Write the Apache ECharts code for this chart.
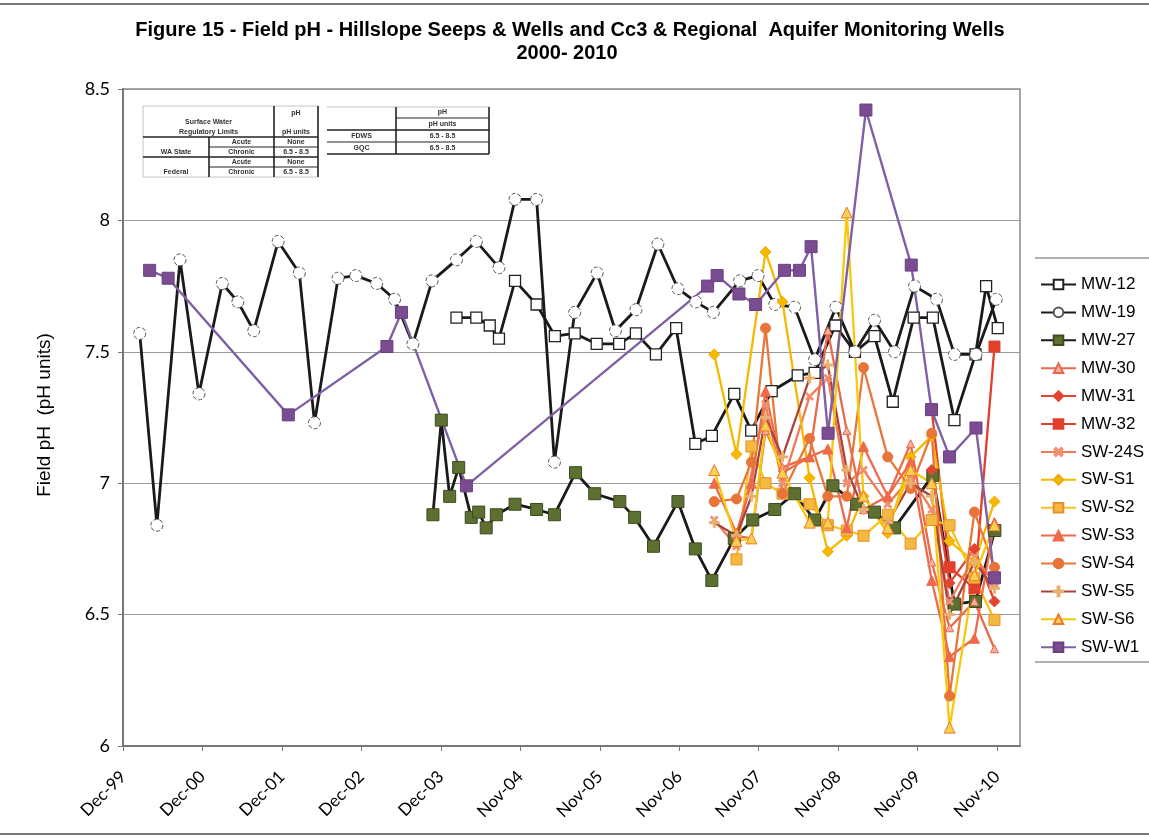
<!DOCTYPE html>
<html>
<head>
<meta charset="utf-8">
<script src="https://cdn.jsdelivr.net/npm/echarts@6/dist/echarts.min.js"></script>
<style>
html,body{margin:0;padding:0;background:#fff}
#chart{width:1149px;height:837px}
</style>
</head>
<body>
<div id="chart"></div>
<script>
// Field pH readings, [sample date, pH]
const MW12 = [['2004-02-12',7.63],['2004-05-12',7.63],['2004-07-12',7.60],['2004-08-23',7.55],['2004-11-04',7.77],['2005-02-10',7.68],['2005-05-04',7.56],['2005-08-02',7.57],['2005-11-10',7.53],['2006-02-20',7.53],['2006-05-07',7.57],['2006-08-06',7.49],['2006-11-06',7.59],['2007-02-01',7.15],['2007-04-17',7.18],['2007-07-28',7.34],['2007-10-13',7.20],['2008-01-14',7.35],['2008-05-11',7.41],['2008-07-27',7.42],['2008-10-29',7.60],['2009-01-26',7.50],['2009-04-25',7.56],['2009-07-17',7.31],['2009-10-20',7.63],['2010-01-15',7.63],['2010-04-23',7.24],['2010-07-28',7.49],['2010-09-14',7.75],['2010-11-06',7.59]];
const MW19 = [['2000-03-05',7.57],['2000-05-22',6.84],['2000-09-04',7.85],['2000-11-29',7.34],['2001-03-15',7.76],['2001-05-25',7.69],['2001-08-05',7.58],['2001-11-24',7.92],['2002-02-28',7.80],['2002-05-08',7.23],['2002-08-23',7.78],['2002-11-12',7.79],['2003-02-14',7.76],['2003-05-07',7.70],['2003-07-29',7.53],['2003-10-24',7.77],['2004-02-12',7.85],['2004-05-12',7.92],['2004-08-23',7.82],['2004-11-04',8.08],['2005-02-10',8.08],['2005-05-02',7.08],['2005-08-02',7.65],['2005-11-12',7.80],['2006-02-03',7.58],['2006-05-07',7.66],['2006-08-15',7.91],['2006-11-14',7.74],['2007-02-03',7.69],['2007-04-24',7.65],['2007-08-21',7.77],['2007-11-13',7.79],['2008-01-28',7.68],['2008-04-27',7.67],['2008-07-27',7.47],['2008-11-01',7.67],['2009-01-26',7.50],['2009-04-25',7.62],['2009-07-25',7.50],['2009-10-24',7.75],['2010-02-01',7.70],['2010-04-23',7.49],['2010-07-30',7.49],['2010-10-30',7.70]];
const MW27 = [['2003-10-28',6.88],['2003-12-05',7.24],['2004-01-12',6.95],['2004-02-22',7.06],['2004-04-19',6.87],['2004-05-23',6.89],['2004-06-26',6.83],['2004-08-11',6.88],['2004-11-04',6.92],['2005-02-10',6.90],['2005-05-02',6.88],['2005-08-06',7.04],['2005-11-01',6.96],['2006-02-23',6.93],['2006-05-01',6.87],['2006-07-26',6.76],['2006-11-14',6.93],['2007-02-01',6.75],['2007-04-17',6.63],['2007-07-28',6.79],['2007-10-20',6.86],['2008-01-28',6.90],['2008-04-27',6.96],['2008-07-27',6.86],['2008-10-18',6.99],['2009-02-03',6.92],['2009-04-25',6.89],['2009-07-25',6.83],['2010-01-15',7.03],['2010-04-23',6.54],['2010-07-28',6.55],['2010-10-24',6.82]];
const MW30 = [['2007-08-07',6.80],['2007-10-14',6.79],['2007-12-17',7.20],['2008-03-03',7.06],['2008-07-04',7.10],['2008-09-25',7.58],['2008-12-20',7.20],['2009-03-06',6.90],['2009-06-24',6.95],['2009-10-06',7.15],['2010-01-10',6.70],['2010-04-01',6.45],['2010-07-23',6.55],['2010-10-22',6.37]];
const MW31 = [['2010-01-10',7.05],['2010-04-01',6.62],['2010-07-23',6.75],['2010-10-22',6.55]];
const MW32 = [['2010-01-10',7.28],['2010-04-01',6.68],['2010-07-23',6.60],['2010-10-22',7.52]];
const SW24S = [['2007-04-28',6.86],['2007-08-07',6.76],['2007-12-17',7.30],['2008-03-03',7.00],['2008-07-04',7.33],['2008-09-25',7.40],['2008-12-20',7.00],['2009-03-06',7.05],['2009-06-24',6.92],['2009-10-06',7.02],['2010-01-10',6.90],['2010-04-01',6.55],['2010-07-23',6.72],['2010-10-22',6.62]];
const SWS1 = [['2007-04-28',7.49],['2007-08-07',7.11],['2007-12-17',7.88],['2008-03-03',7.69],['2008-07-04',7.02],['2008-09-25',6.74],['2008-12-20',6.80],['2009-03-06',6.95],['2009-06-24',6.81],['2009-10-06',7.10],['2010-01-10',7.18],['2010-04-01',6.78],['2010-07-23',6.70],['2010-10-22',6.93]];
const SWS2 = [['2007-08-07',6.71],['2007-10-14',7.14],['2007-12-17',7.00],['2008-03-03',6.96],['2008-07-04',6.92],['2008-09-25',6.84],['2008-12-20',6.82],['2009-03-06',6.80],['2009-06-24',6.88],['2009-10-06',6.77],['2010-01-10',6.86],['2010-04-01',6.84],['2010-07-23',6.64],['2010-10-22',6.48]];
const SWS3 = [['2007-04-28',7.00],['2007-08-07',6.81],['2007-10-14',7.00],['2007-12-17',7.35],['2008-03-03',7.04],['2008-07-04',7.10],['2008-09-25',7.13],['2008-12-20',6.83],['2009-03-06',7.14],['2009-06-24',6.95],['2009-10-06',7.08],['2010-01-10',6.63],['2010-04-01',6.34],['2010-07-23',6.41],['2010-10-22',6.85]];
const SWS4 = [['2007-04-28',6.93],['2007-08-07',6.94],['2007-10-14',7.08],['2007-12-17',7.59],['2008-03-03',6.96],['2008-07-04',7.17],['2008-09-25',6.95],['2008-12-20',6.95],['2009-03-06',7.44],['2009-06-24',7.10],['2009-10-06',6.98],['2010-01-10',7.19],['2010-04-01',6.19],['2010-07-23',6.89],['2010-10-22',6.68]];
const SWS5 = [['2007-04-28',6.85],['2007-08-07',6.80],['2007-10-14',6.95],['2007-12-17',7.25],['2008-03-03',7.10],['2008-07-04',7.40],['2008-09-25',7.45],['2008-12-20',7.05],['2009-03-06',6.90],['2009-06-24',6.85],['2009-10-06',7.00],['2010-01-10',6.95],['2010-04-01',6.50],['2010-07-23',6.70],['2010-10-22',6.60]];
const SWS6 = [['2007-04-28',7.05],['2007-08-07',6.78],['2007-10-14',6.79],['2007-12-17',7.22],['2008-03-03',7.04],['2008-07-04',6.85],['2008-09-25',6.85],['2008-12-20',8.03],['2009-03-06',6.95],['2009-06-24',6.83],['2009-10-06',7.05],['2010-01-10',7.00],['2010-04-01',6.07],['2010-07-23',6.65],['2010-10-22',6.84]];
const SWW1 = [['2000-04-19',7.81],['2000-07-12',7.78],['2002-01-09',7.26],['2003-04-02',7.52],['2003-06-07',7.65],['2004-03-28',6.99],['2007-03-29',7.75],['2007-05-11',7.79],['2007-08-18',7.72],['2007-11-02',7.68],['2008-03-12',7.81],['2008-05-19',7.81],['2008-07-11',7.90],['2008-09-26',7.19],['2009-03-17',8.42],['2009-10-09',7.83],['2010-01-09',7.28],['2010-04-01',7.10],['2010-07-30',7.21],['2010-10-22',6.64]];

const Y_TICKS = [6, 6.5, 7, 7.5, 8, 8.5];
const MONTHS = ['Jan','Feb','Mar','Apr','May','Jun','Jul','Aug','Sep','Oct','Nov','Dec'];

// Regulatory limits tables
const LIMITS_LEFT = [
  ['', '', 'pH'],
  ['Surface Water\nRegulatory Limits', '', 'pH units'],
  ['WA State', 'Acute', 'None'],
  ['', 'Chronic', '6.5 - 8.5'],
  ['Federal', 'Acute', 'None'],
  ['', 'Chronic', '6.5 - 8.5']
];
const LIMITS_RIGHT = [
  ['', 'pH'],
  ['', 'pH units'],
  ['FDWS', '6.5 - 8.5'],
  ['GQC', '6.5 - 8.5']
];

// The date axis counts days from this origin; ticks every 361 days
const ORIGIN = Date.UTC(1999, 11, 20);
const DAY = 86400000;
const TICK_DAYS = 361;
const toDays = s => { const p = s.split('-').map(Number); return (Date.UTC(p[0], p[1] - 1, p[2]) - ORIGIN) / DAY; };
const pts = arr => arr.map(d => [toDays(d[0]), d[1]]);

function dateLabel(v) {
  if (Math.abs(v % TICK_DAYS) > 0.01) return '';
  const d = new Date(ORIGIN + v * DAY);
  return MONTHS[d.getUTCMonth()] + '-' + String(d.getUTCFullYear() % 100).padStart(2, '0');
}

const CROSS = 'path://M4,0H6V4H10V6H6V10H4V6H0V4H4Z';

function mk(name, data, lineColor, lineWidth, symbol, size, fill, border, extra) {
  return Object.assign({
    name, type: 'line', data: pts(data),
    symbol, symbolSize: size, showSymbol: true,
    lineStyle: { color: lineColor, width: lineWidth },
    itemStyle: { color: fill, borderColor: border, borderWidth: 1 },
    emphasis: { disabled: true },
    animation: false, z: 2
  }, extra || {});
}

const series = [
  mk('MW-12', MW12, '#1a1a1a', 2.8, 'rect', 11, '#ffffff', '#222', { itemStyle: { color: '#fff', borderColor: '#222', borderWidth: 1.3 } }),
  mk('MW-19', MW19, '#1a1a1a', 2.8, 'circle', 12, '#ffffff', '#555', { itemStyle: { color: '#fff', borderColor: '#555', borderWidth: 1, borderType: 'dashed' } }),
  mk('MW-27', MW27, '#1a1a1a', 2.8, 'rect', 12, '#5d7032', '#3c4a1e'),
  mk('MW-30', MW30, '#ea6a4c', 2.3, 'triangle', 8, '#f6b0a0', '#e8664a'),
  mk('MW-31', MW31, '#e2452f', 2.3, 'diamond', 11, '#e2452f', '#e2452f'),
  mk('MW-32', MW32, '#e2402c', 2.3, 'rect', 11, '#e2402c', '#e2402c'),
  mk('SW-24S', SW24S, '#f07a55', 2.3, CROSS, 9, '#f09070', '#f09070', { symbolRotate: 45 }),
  mk('SW-S1', SWS1, '#f7b800', 2.3, 'diamond', 11, '#f7b800', '#f0a800'),
  mk('SW-S2', SWS2, '#f6c21c', 2.3, 'rect', 11, '#f5b840', '#e8902a'),
  mk('SW-S3', SWS3, '#ee6a4a', 2.3, 'triangle', 10, '#ee6a4a', '#ee6a4a'),
  mk('SW-S4', SWS4, '#e8783a', 2.3, 'circle', 10, '#e8743a', '#e8743a'),
  mk('SW-S5', SWS5, '#a8443c', 2.3, CROSS, 10, '#e8b070', '#e8b070'),
  mk('SW-S6', SWS6, '#f8c80c', 2.3, 'triangle', 11, '#f8d050', '#ee7a30'),
  mk('SW-W1', SWW1, '#8060a4', 2.4, 'rect', 12, '#7b4c92', '#6a3f80')
];

// Table graphics
function tableGraphics() {
  const g = [];
  const txt = (x, y, t) => g.push({ type: 'text', x, y, silent: true, style: { text: t, fill: '#333', font: 'bold 7px "Liberation Sans", Arial', textAlign: 'center', textVerticalAlign: 'middle', lineHeight: 10 } });
  const ln = (x1, y1, x2, y2, w, c) => g.push({ type: 'line', silent: true, shape: { x1, y1, x2, y2 }, style: { stroke: c || '#222', lineWidth: w || 1 } });
  // left table
  const lx = [143, 209, 274, 318];
  const lrow = [113, 127, 142, 152, 162, 172];
  ln(143, 106, 318, 106, 1, '#c4c4c4');
  ln(143, 177, 318, 177, 1, '#c4c4c4');
  ln(143, 106, 143, 177, 1, '#c4c4c4');
  ln(274, 106, 274, 177, 1.6);
  ln(318, 106, 318, 177, 1.6);
  ln(209, 137, 209, 177, 1.6);
  ln(143, 137, 318, 137, 1.6);
  ln(209, 147, 318, 147, 1);
  ln(143, 157, 318, 157, 1.6);
  ln(209, 167, 318, 167, 1);
  txt((lx[2] + lx[3]) / 2, lrow[0], LIMITS_LEFT[0][2]);
  txt((lx[0] + lx[2]) / 2, lrow[1], LIMITS_LEFT[1][0]);
  txt((lx[2] + lx[3]) / 2, lrow[1] + 5, LIMITS_LEFT[1][2]);
  for (let r = 2; r < 6; r++) {
    if (LIMITS_LEFT[r][0]) txt((lx[0] + lx[1]) / 2, lrow[r + 1], LIMITS_LEFT[r][0]);
    txt((lx[1] + lx[2]) / 2, lrow[r], LIMITS_LEFT[r][1]);
    txt((lx[2] + lx[3]) / 2, lrow[r], LIMITS_LEFT[r][2]);
  }
  // right table
  const rx = [327, 396, 489];
  const rrow = [112, 124, 136, 148];
  ln(327, 107, 489, 107, 1, '#c4c4c4');
  ln(396, 107, 396, 154, 1.6);
  ln(489, 107, 489, 154, 1.6);
  ln(396, 118, 489, 118, 1);
  ln(327, 130, 489, 130, 1.6);
  ln(327, 142, 489, 142, 1);
  ln(327, 154, 489, 154, 1.6);
  for (let r = 0; r < 4; r++) {
    if (LIMITS_RIGHT[r][0]) txt((rx[0] + rx[1]) / 2, rrow[r], LIMITS_RIGHT[r][0]);
    txt((rx[1] + rx[2]) / 2, rrow[r], LIMITS_RIGHT[r][1]);
  }
  return g;
}

const chart = echarts.init(document.getElementById('chart'), null, { renderer: 'canvas' });
chart.setOption({
  backgroundColor: '#fff',
  animation: false,
  grid: { left: 123, right: 129, top: 89, bottom: 91, show: true, borderColor: '#8a8a8a', borderWidth: 1.5, backgroundColor: 'transparent' },
  xAxis: {
    type: 'value', min: 0, max: 4075, interval: TICK_DAYS,
    axisLine: { show: true, onZero: false, lineStyle: { color: '#777', width: 2 } },
    axisTick: { show: true, length: 5, lineStyle: { color: '#777' } },
    splitLine: { show: false },
    axisLabel: { rotate: 45, margin: 28, fontSize: 17, fontFamily: 'Lato', color: '#000', formatter: dateLabel, showMaxLabel: false }
  },
  yAxis: {
    type: 'value', min: Y_TICKS[0], max: Y_TICKS[Y_TICKS.length - 1], interval: 0.5,
    axisLine: { show: true, lineStyle: { color: '#777', width: 2 } },
    axisTick: { show: true, length: 5, lineStyle: { color: '#777' } },
    splitLine: { show: true, lineStyle: { color: '#9a9a9a', width: 1 } },
    axisLabel: { margin: 13, fontSize: 18, fontFamily: 'Lato', color: '#000', formatter: v => String(v) }
  },
  legend: {
    orient: 'vertical', left: 1035, top: 271, itemGap: 10.9, itemWidth: 35, itemHeight: 12,
    textStyle: { fontSize: 17, fontFamily: '"Liberation Sans", Arial', color: '#000' },
    selectedMode: false,
    data: series.map(s => s.name)
  },
  graphic: [
    { type: 'text', x: 570, y: 30, silent: true, style: { text: 'Figure 15 - Field pH - Hillslope Seeps & Wells and Cc3 & Regional  Aquifer Monitoring Wells', font: 'bold 20px "Liberation Sans", Arial', fill: '#000', textAlign: 'center', textVerticalAlign: 'middle' } },
    { type: 'text', x: 567, y: 53, silent: true, style: { text: '2000- 2010', font: 'bold 20px "Liberation Sans", Arial', fill: '#000', textAlign: 'center', textVerticalAlign: 'middle' } },
    { type: 'text', x: 45, y: 415, rotation: Math.PI / 2, silent: true, style: { text: 'Field pH  (pH units)', font: '19px "Liberation Sans", Arial', fill: '#000', textAlign: 'center', textVerticalAlign: 'middle' } },
    { type: 'line', silent: true, shape: { x1: 0, y1: 4, x2: 1149, y2: 4 }, style: { stroke: '#777', lineWidth: 2 } },
    { type: 'line', silent: true, shape: { x1: 0, y1: 834, x2: 1149, y2: 834 }, style: { stroke: '#777', lineWidth: 2 } },
    { type: 'line', silent: true, shape: { x1: 1035, y1: 258, x2: 1149, y2: 258 }, style: { stroke: '#999', lineWidth: 1.5 } },
    { type: 'line', silent: true, shape: { x1: 1035, y1: 662, x2: 1149, y2: 662 }, style: { stroke: '#999', lineWidth: 1.5 } }
  ].concat(tableGraphics()),
  series
});
</script>
</body>
</html>
